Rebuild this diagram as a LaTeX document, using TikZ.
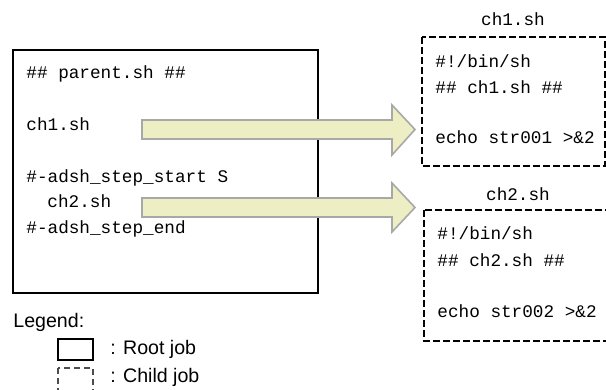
\documentclass[tikz,border=0pt]{standalone}
\usepackage{fontspec}
\newfontfamily\codefont{Liberation Mono}
\newfontfamily\legendfont{Liberation Sans}
\usepackage{xcolor}
\usepackage{tikz}
\definecolor{arrowfill}{RGB}{238,238,196}
\definecolor{arrowedge}{RGB}{168,168,168}
\tikzset{
  code/.style={anchor=base west, inner sep=0pt, font=\codefont\fontsize{8.85}{10}\selectfont},
  legend/.style={anchor=base west, inner sep=0pt, font=\legendfont\fontsize{9.8}{11}\selectfont},
  rootbox/.style={draw=black, line width=0.75pt},
  childbox/.style={draw=black, line width=0.75pt, dash pattern=on 3.5pt off 1.5pt},
  blockarrow/.style={fill=arrowfill, draw=arrowedge, line width=0.8pt, line join=miter}
}
\begin{document}
\begin{tikzpicture}[x=0.5pt,y=-0.5pt]
\useasboundingbox (0,0) rectangle (606,390);
% root job
\draw[rootbox] (13,50) rectangle (318,293);
\node[code] (parent) at (26,79) {\#\# parent.sh \#\#};
\node[code] (callA) at (26,131) {ch1.sh};
\node[code] (stepstart) at (26,183) {\#-adsh\_step\_start S};
\node[code] (callB) at (47,208) {ch2.sh};
\node[code] (stepend) at (26,234) {\#-adsh\_step\_end};
% child jobs
\node[code, anchor=base] (titleA) at (513,26) {ch1.sh};
\draw[childbox] (422,37) rectangle (605,166);
\node[code] (shebangA) at (435,68) {\#!/bin/sh};
\node[code] (nameA) at (435,94) {\#\# ch1.sh \#\#};
\node[code] (echoA) at (435,144) {echo str001 >\&2};
\node[code, anchor=base] (titleB) at (518,201) {ch2.sh};
\draw[childbox] (424,210) rectangle (607,341);
\node[code] (shebangB) at (437,240) {\#!/bin/sh};
\node[code] (nameB) at (437,266) {\#\# ch2.sh \#\#};
\node[code] (echoB) at (437,317) {echo str002 >\&2};
% block arrows
\filldraw[blockarrow] (142,120) -- (392,120) -- (392,105) -- (415,129.5) -- (392,155) -- (392,139) -- (142,139) -- cycle;
\filldraw[blockarrow] (142,198) -- (392,198) -- (392,183) -- (415,207.5) -- (392,232) -- (392,217) -- (142,217) -- cycle;
% legend
\node[legend] (legendtitle) at (13,328) {Legend:};
\draw[rootbox] (58,339) rectangle (93,360);
\node[legend] (rootlabel) at (110,355) {: Root job};
\draw[childbox, draw=black!70, dash pattern=on 3pt off 2pt] (58,368) rectangle (93,394);
\node[legend] (childlabel) at (110,382) {: Child job};
\end{tikzpicture}
\end{document}
